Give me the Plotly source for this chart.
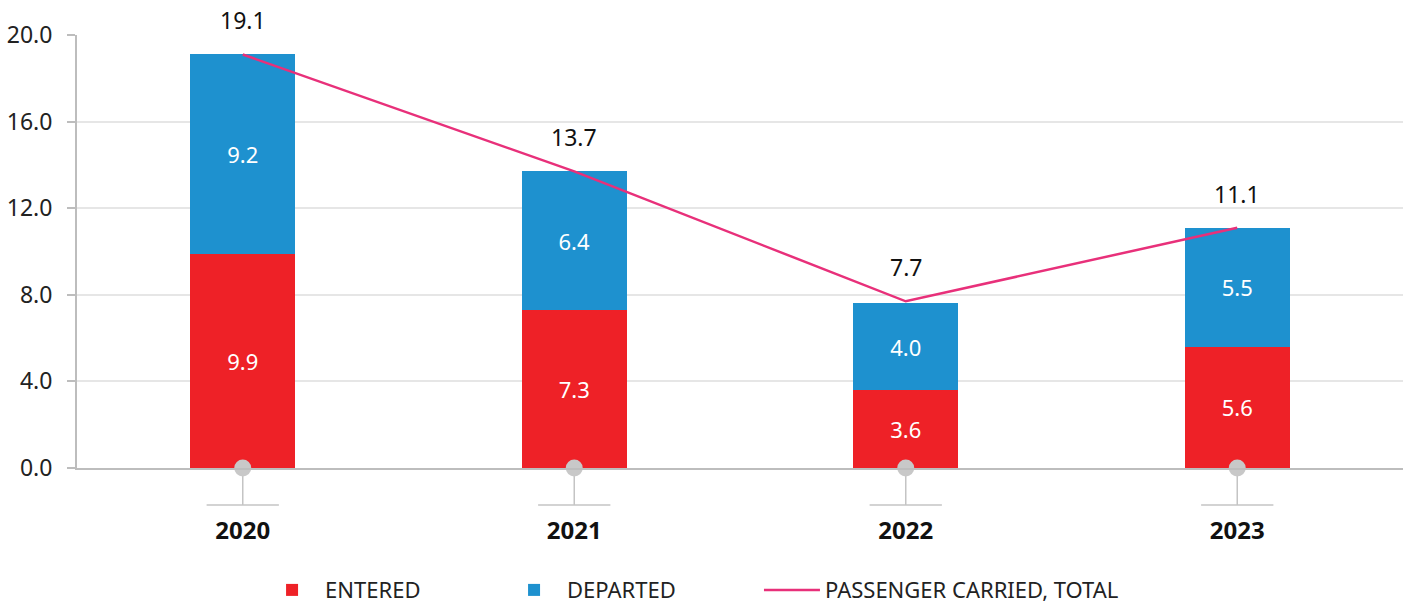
import plotly.graph_objects as go

years = ["2020", "2021", "2022", "2023"]
entered = [9.9, 7.3, 3.6, 5.6]
departed = [9.2, 6.4, 4.0, 5.5]
total = [19.1, 13.7, 7.7, 11.1]
y_ticks = [0, 4, 8, 12, 16, 20]

RED = "#ee2127"
BLUE = "#1e91cf"
PINK = "#e8307a"
GREY = "#c4c4c4"
FONT = "Noto Sans"

fig = go.Figure()
fig.add_trace(go.Bar(
    x=years, y=entered, name="ENTERED", marker=dict(color=RED, line=dict(width=0)),
    texttemplate="%{y:.1f}", textposition="inside", insidetextanchor="middle",
    textfont=dict(color="white", size=22, family=FONT), width=0.317, legend="legend",
))
fig.add_trace(go.Bar(
    x=years, y=departed, name="DEPARTED", marker=dict(color=BLUE, line=dict(width=0)),
    texttemplate="%{y:.1f}", textposition="inside", insidetextanchor="middle",
    textfont=dict(color="white", size=22, family=FONT), width=0.317, legend="legend2",
))
fig.add_trace(go.Scatter(
    x=years, y=total, name="PASSENGER CARRIED, TOTAL", mode="lines",
    line=dict(color=PINK, width=2.5), legend="legend3",
))
# grey dots on the baseline
fig.add_trace(go.Scatter(
    x=years, y=[0] * len(years), mode="markers", showlegend=False, hoverinfo="skip",
    marker=dict(color="#c8c8c8", size=17), cliponaxis=False,
))

for i, t in enumerate(total):
    fig.add_annotation(x=i, y=t, xref="x", yref="y", text=f"{t:.1f}", showarrow=False,
                       yanchor="bottom", yshift=16,
                       font=dict(size=23, color="#111", family=FONT))
    fig.add_shape(type="line", xref="x", yref="paper", x0=i, x1=i, y0=0, y1=-0.0855,
                  line=dict(color=GREY, width=1.5), layer="below")
    fig.add_shape(type="line", xref="x", yref="paper", x0=i - 0.109, x1=i + 0.109,
                  y0=-0.0855, y1=-0.0855, line=dict(color=GREY, width=1.5), layer="below")

leg_common = dict(orientation="h", xanchor="left", y=-0.282, yanchor="middle",
                  itemwidth=56, font=dict(size=22, color="#222", family=FONT),
                  bgcolor="rgba(0,0,0,0)")
fig.update_layout(
    barmode="stack",
    width=1408, height=606,
    margin=dict(l=77, r=5, t=35, b=138, autoexpand=False),
    plot_bgcolor="white", paper_bgcolor="white",
    font=dict(family=FONT, size=20, color="#222"),
    legend=dict(x=0.1373, **leg_common),
    legend2=dict(x=0.3198, **leg_common),
    legend3=dict(x=0.5143, **leg_common),
    hovermode=False,
)
fig.update_xaxes(
    type="category", range=[-0.5, 3.5], showline=True, linecolor="#bdbdbd", linewidth=2,
    ticks="", tickfont=dict(size=24, color="#111", family=FONT, weight="bold"),
    ticklabelstandoff=40, showgrid=False, zeroline=False, automargin=False,
)
fig.update_yaxes(
    range=[0, 20], tickvals=y_ticks, ticktext=[f"{v:.1f}" for v in y_ticks],
    showline=True, linecolor="#bdbdbd", linewidth=2,
    ticks="outside", ticklen=8, tickcolor="#bdbdbd", tickwidth=1.5,
    ticklabelstandoff=10, automargin=False,
    tickfont=dict(size=23, color="#222", family=FONT),
    showgrid=True, gridcolor="#e6e6e6", gridwidth=1.5, zeroline=False,
)

fig.write_html(
    "out.html",
    config={"displayModeBar": False},
    post_script="document.body.style.margin='0';document.body.style.overflow='hidden';",
)
